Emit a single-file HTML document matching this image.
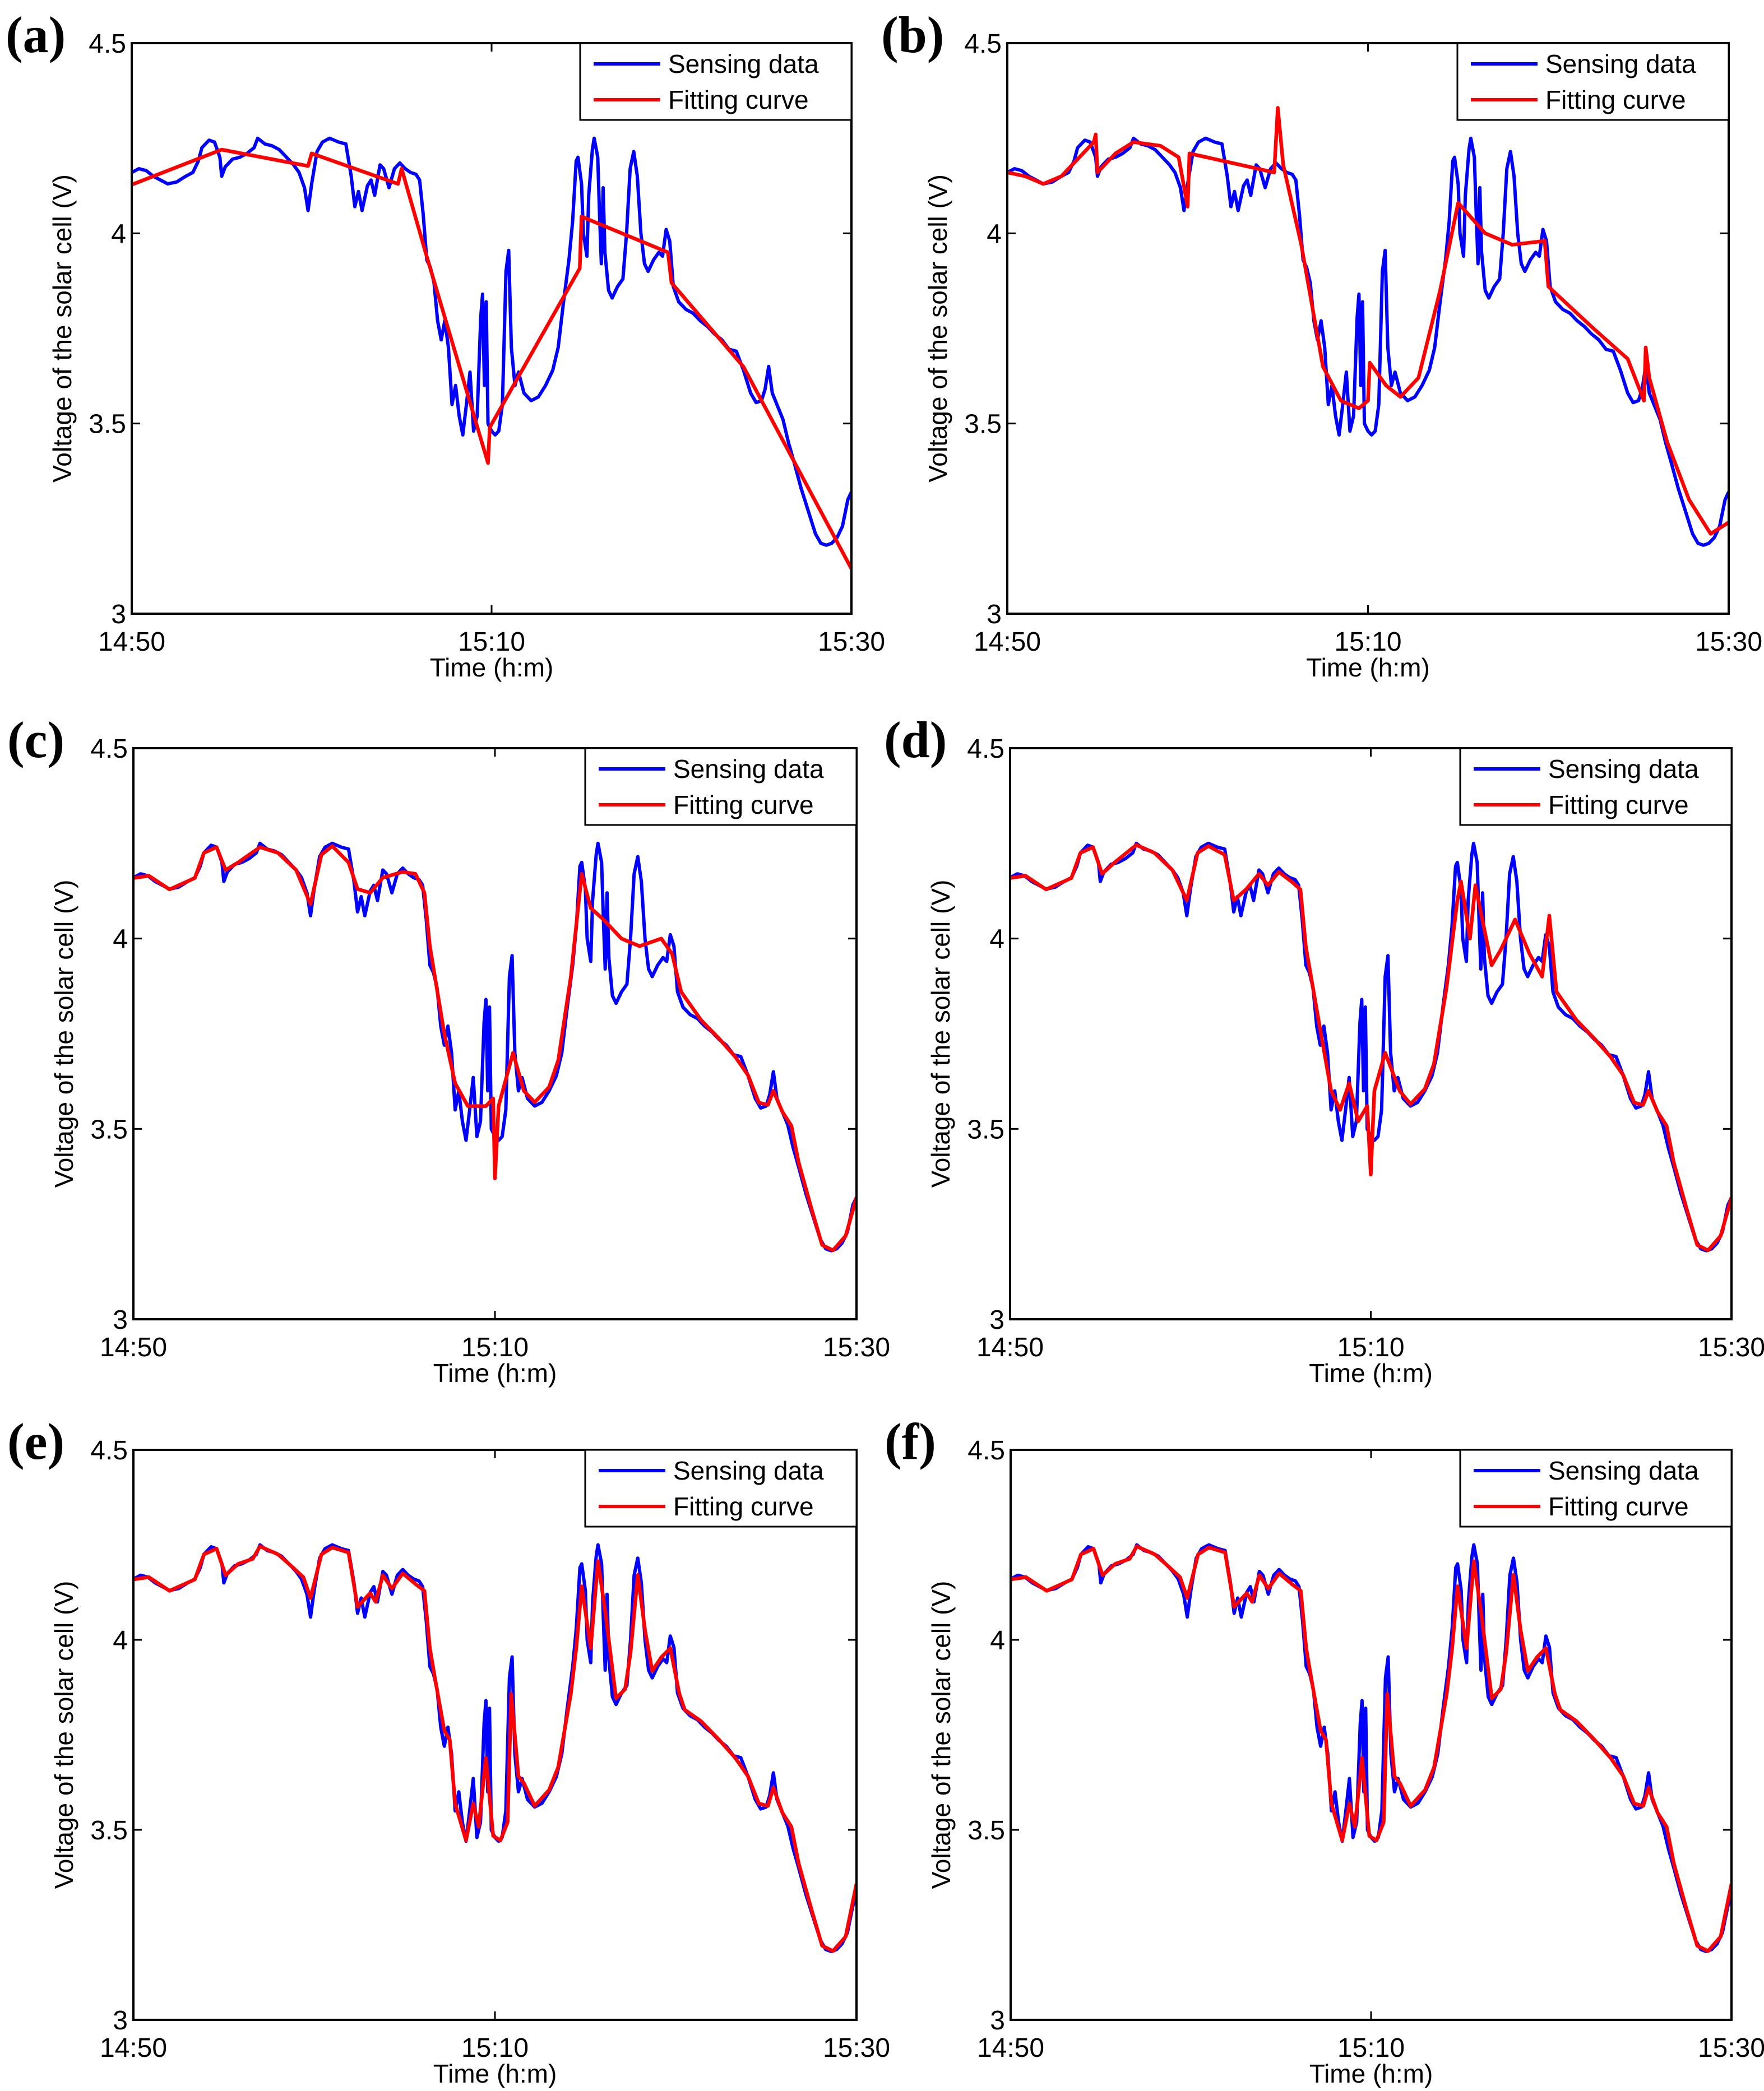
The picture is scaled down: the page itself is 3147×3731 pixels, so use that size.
<!DOCTYPE html>
<html><head><meta charset="utf-8"><style>
html,body{margin:0;padding:0;background:#fff}
svg{display:block}
text{font-family:"Liberation Sans",sans-serif;fill:#000}
.pl{font-family:"Liberation Serif",serif;font-weight:bold}
</style></head><body>
<svg id="fig" xmlns="http://www.w3.org/2000/svg" width="3147" height="3731" viewBox="0 0 3147 3731"></svg>
<script>
const xTickLabels = ["14:50","15:10","15:30"];
const xTickValues = [0,20,40];
const yTickLabels = ["3","3.5","4","4.5"];
const yTickValues = [3,3.5,4,4.5];
const panelLabels = ["(a)","(b)","(c)","(d)","(e)","(f)"];
const seriesNames = ["Sensing data","Fitting curve"];

const sensingData = [[0,4.16],[0.4,4.17],[0.8,4.165],[1.2,4.15],[1.6,4.14],[2.0,4.13],[2.5,4.135],[3.0,4.15],[3.4,4.16],[3.7,4.19],[3.9,4.225],[4.3,4.245],[4.6,4.24],[4.9,4.2],[5.0,4.15],[5.2,4.175],[5.6,4.195],[6.0,4.2],[6.4,4.21],[6.8,4.225],[7.0,4.25],[7.4,4.235],[7.8,4.23],[8.2,4.22],[8.6,4.2],[9.0,4.18],[9.3,4.16],[9.6,4.12],[9.8,4.06],[10.0,4.13],[10.3,4.215],[10.6,4.24],[11.0,4.25],[11.5,4.24],[11.9,4.235],[12.2,4.15],[12.4,4.07],[12.6,4.11],[12.8,4.06],[13.1,4.125],[13.3,4.14],[13.5,4.1],[13.8,4.18],[14.0,4.17],[14.3,4.12],[14.6,4.17],[14.9,4.185],[15.2,4.17],[15.5,4.16],[15.8,4.155],[16.0,4.14],[16.2,4.05],[16.4,3.93],[16.6,3.91],[16.8,3.87],[17.0,3.77],[17.2,3.72],[17.4,3.77],[17.6,3.7],[17.8,3.55],[18.0,3.6],[18.2,3.52],[18.4,3.47],[18.6,3.55],[18.8,3.635],[19.0,3.48],[19.2,3.52],[19.4,3.78],[19.5,3.84],[19.6,3.6],[19.7,3.82],[19.8,3.5],[20.0,3.48],[20.2,3.47],[20.4,3.48],[20.6,3.55],[20.8,3.9],[20.95,3.955],[21.1,3.7],[21.3,3.6],[21.5,3.635],[21.8,3.58],[22.2,3.56],[22.6,3.57],[23.0,3.6],[23.4,3.64],[23.7,3.7],[24.0,3.82],[24.3,3.93],[24.5,4.03],[24.7,4.19],[24.8,4.2],[25.0,4.13],[25.1,4.0],[25.3,3.94],[25.4,4.1],[25.6,4.22],[25.7,4.25],[25.9,4.2],[26.0,4.05],[26.1,3.92],[26.2,4.12],[26.3,3.95],[26.5,3.85],[26.7,3.83],[27.0,3.86],[27.3,3.88],[27.5,4.0],[27.7,4.17],[27.9,4.215],[28.1,4.15],[28.3,4.0],[28.5,3.92],[28.7,3.9],[29.0,3.93],[29.3,3.95],[29.5,3.94],[29.7,4.01],[29.9,3.98],[30.1,3.86],[30.4,3.82],[30.8,3.8],[31.2,3.79],[31.6,3.77],[32.0,3.755],[32.4,3.735],[32.8,3.72],[33.2,3.695],[33.6,3.69],[34.0,3.64],[34.4,3.58],[34.7,3.555],[35.0,3.56],[35.2,3.59],[35.4,3.65],[35.6,3.58],[35.9,3.545],[36.2,3.51],[36.5,3.45],[36.8,3.4],[37.2,3.33],[37.6,3.27],[38.0,3.21],[38.3,3.185],[38.6,3.18],[38.9,3.185],[39.2,3.2],[39.5,3.23],[39.8,3.3],[40,3.32]];

const fitA = [[0,4.128],[5.0,4.22],[9.8,4.177],[10.0,4.21],[14.8,4.13],[15.0,4.17],[16.3,3.955],[19.8,3.396],[19.9,3.49],[24.9,3.908],[25.0,4.044],[29.8,3.95],[30.0,3.87],[34.0,3.649],[40,3.118]];

const fitB = [[0,4.16],[1,4.15],[2,4.13],[3,4.15],[4,4.2],[4.8,4.24],[4.9,4.26],[5.0,4.16],[6,4.21],[7,4.24],[8.5,4.23],[9.5,4.2],[10.0,4.07],[10.1,4.21],[12,4.19],[14.8,4.16],[15.0,4.33],[15.3,4.18],[16.3,3.97],[17.5,3.65],[18.5,3.56],[19.5,3.54],[20.0,3.56],[20.1,3.66],[21,3.6],[21.8,3.57],[22.8,3.62],[24,3.85],[25,4.08],[26.5,4.0],[28,3.97],[29.8,3.98],[30,3.86],[32.5,3.75],[34.4,3.67],[35.3,3.56],[35.4,3.7],[35.6,3.62],[36.6,3.45],[37.8,3.3],[39,3.21],[40,3.24]];

const fitC = [[0,4.159],[0.85,4.165],[2.0,4.129],[3.4,4.159],[3.9,4.225],[4.6,4.24],[5.1,4.18],[5.8,4.2],[7.0,4.24],[8.0,4.225],[9.0,4.18],[9.8,4.09],[10.4,4.22],[11.0,4.243],[11.9,4.2],[12.4,4.13],[13.1,4.12],[13.8,4.16],[14.9,4.175],[15.6,4.17],[16.1,4.12],[16.4,3.98],[17.2,3.75],[17.8,3.62],[18.5,3.56],[19.5,3.56],[19.9,3.58],[20.0,3.37],[20.2,3.56],[21.0,3.7],[21.6,3.6],[22.2,3.57],[23.0,3.61],[23.5,3.68],[24.2,3.9],[24.8,4.17],[25.3,4.08],[26.0,4.05],[27.0,4.0],[28.0,3.98],[29.2,4.0],[29.8,3.96],[30.3,3.86],[31.4,3.786],[32.4,3.737],[33.3,3.689],[34.0,3.641],[34.6,3.569],[35.1,3.563],[35.4,3.6],[35.9,3.545],[36.4,3.508],[36.8,3.412],[37.5,3.292],[38.1,3.195],[38.7,3.181],[39.4,3.219],[40,3.32]];

const fitD = [[0,4.159],[0.85,4.165],[2.0,4.129],[3.4,4.159],[3.9,4.225],[4.6,4.24],[5.1,4.17],[5.8,4.2],[7.0,4.246],[8.0,4.225],[9.0,4.18],[9.8,4.1],[10.4,4.225],[11.0,4.243],[11.9,4.22],[12.4,4.1],[13.1,4.13],[13.8,4.17],[14.3,4.14],[14.9,4.175],[15.6,4.15],[16.1,4.129],[16.4,3.978],[17.2,3.76],[17.8,3.6],[18.3,3.55],[18.8,3.62],[19.3,3.52],[19.8,3.56],[20.0,3.38],[20.2,3.6],[20.8,3.7],[21.6,3.6],[22.2,3.565],[23.0,3.605],[23.5,3.67],[24.2,3.87],[24.8,4.1],[25.0,4.15],[25.5,4.0],[25.8,4.14],[26.7,3.93],[27.2,3.97],[28.0,4.05],[28.8,3.96],[29.5,3.9],[29.9,4.06],[30.3,3.86],[31.4,3.786],[32.4,3.737],[33.3,3.689],[34.0,3.641],[34.6,3.569],[35.1,3.563],[35.4,3.6],[35.9,3.545],[36.4,3.508],[36.8,3.412],[37.5,3.292],[38.1,3.195],[38.7,3.181],[39.4,3.219],[40,3.32]];

const fitE = [[0,4.159],[0.85,4.165],[2.0,4.129],[3.4,4.159],[3.9,4.225],[4.6,4.24],[5.1,4.17],[5.8,4.2],[6.6,4.213],[7.0,4.246],[8.0,4.225],[8.6,4.2],[9.4,4.165],[9.8,4.11],[10.4,4.225],[11.0,4.243],[11.9,4.23],[12.4,4.087],[13.1,4.123],[13.4,4.1],[13.8,4.17],[14.3,4.135],[14.9,4.175],[15.6,4.147],[16.1,4.129],[16.4,3.978],[16.7,3.894],[17.2,3.761],[17.5,3.737],[17.8,3.569],[18.4,3.472],[18.8,3.569],[19.1,3.508],[19.5,3.689],[19.9,3.484],[20.3,3.472],[20.7,3.52],[20.9,3.858],[21.3,3.641],[21.6,3.623],[22.2,3.563],[23.0,3.605],[23.5,3.665],[24.2,3.858],[24.5,3.978],[24.8,4.141],[25.3,3.978],[25.7,4.207],[26.1,4.075],[26.7,3.846],[27.2,3.87],[27.5,3.966],[27.9,4.171],[28.3,4.026],[28.7,3.918],[29.2,3.954],[29.7,3.978],[30.2,3.858],[30.5,3.816],[31.4,3.786],[32.4,3.737],[33.3,3.689],[34.0,3.641],[34.6,3.569],[35.1,3.563],[35.4,3.611],[35.9,3.545],[36.4,3.508],[36.8,3.412],[37.5,3.292],[38.1,3.195],[38.7,3.181],[39.4,3.219],[40,3.358]];

const fitF = [[0,4.159],[0.85,4.165],[2.0,4.129],[3.4,4.159],[3.9,4.225],[4.6,4.24],[5.1,4.17],[5.8,4.2],[6.6,4.213],[7.0,4.246],[8.0,4.225],[8.6,4.2],[9.4,4.165],[9.8,4.11],[10.4,4.225],[11.0,4.243],[11.9,4.23],[12.4,4.087],[13.1,4.123],[13.4,4.1],[13.8,4.17],[14.3,4.135],[14.9,4.175],[15.6,4.147],[16.1,4.129],[16.4,3.978],[16.7,3.894],[17.2,3.761],[17.5,3.737],[17.8,3.569],[18.4,3.472],[18.8,3.569],[19.1,3.508],[19.5,3.689],[19.9,3.484],[20.3,3.472],[20.7,3.52],[20.9,3.858],[21.3,3.641],[21.6,3.623],[22.2,3.563],[23.0,3.605],[23.5,3.665],[24.2,3.858],[24.5,3.978],[24.8,4.141],[25.3,3.978],[25.7,4.207],[26.1,4.075],[26.7,3.846],[27.2,3.87],[27.5,3.966],[27.9,4.171],[28.3,4.026],[28.7,3.918],[29.2,3.954],[29.7,3.978],[30.2,3.858],[30.5,3.816],[31.4,3.786],[32.4,3.737],[33.3,3.689],[34.0,3.641],[34.6,3.569],[35.1,3.563],[35.4,3.611],[35.9,3.545],[36.4,3.508],[36.8,3.412],[37.5,3.292],[38.1,3.195],[38.7,3.181],[39.4,3.219],[40,3.358]];

const fits = [fitA, fitB, fitC, fitD, fitE, fitF];

const NS = "http://www.w3.org/2000/svg";
const svg = document.getElementById("fig");
const boxes = [
  {l:235,r:1519,t:77,b:1095},{l:1797,r:3084,t:77,b:1095},
  {l:238,r:1528,t:1335,b:2354},{l:1802,r:3089,t:1335,b:2354},
  {l:238,r:1528,t:2587,b:3604},{l:1803,r:3089,t:2587,b:3604}
];
function mk(tag, attrs, parent){
  const e = document.createElementNS(NS, tag);
  for (const k in attrs) e.setAttribute(k, attrs[k]);
  parent.appendChild(e);
  return e;
}
boxes.forEach((B, i) => {
  const g = mk("g", {}, svg);
  
  
  const xs = t => B.l + (t - 0) / 40 * (B.r - B.l);
  const ys = v => B.b - (v - 3) / 1.5 * (B.b - B.t);
  const toPts = arr => arr.map(p => xs(p[0]).toFixed(1) + "," + ys(p[1]).toFixed(1)).join(" ");

  const clipId = "clip" + i;
  const cp = mk("clipPath", {id: clipId}, g);
  mk("rect", {x:B.l, y:B.t, width:B.r-B.l, height:B.b-B.t}, cp);

  const blue = mk("polyline", {points: toPts(sensingData), fill:"none", stroke:"#0000ff", "stroke-width":6, "stroke-linejoin":"round", "clip-path":"url(#"+clipId+")"}, g);
  
  
  const red = mk("polyline", {points: toPts(fits[i]), fill:"none", stroke:"#ff0000", "stroke-width":6.5, "stroke-linejoin":"round", "clip-path":"url(#"+clipId+")"}, g);
  
  

  const frame = mk("rect", {x:B.l, y:B.t, width:B.r-B.l, height:B.b-B.t, fill:"none", stroke:"#000", "stroke-width":4}, g);
  
  

  xTickValues.forEach((tv, k) => {
    const x = xs(tv);
    mk("line", {x1:x, y1:B.b, x2:x, y2:B.b-15, stroke:"#000", "stroke-width":3}, g);
    mk("line", {x1:x, y1:B.t, x2:x, y2:B.t+15, stroke:"#000", "stroke-width":3}, g);
    const tx = mk("text", {x:x, y:B.b+66, "font-size":48, "text-anchor":"middle"}, g);
    tx.textContent = xTickLabels[k];
    
    
  });
  yTickValues.forEach((tv, k) => {
    const y = ys(tv);
    mk("line", {x1:B.l, y1:y, x2:B.l+15, y2:y, stroke:"#000", "stroke-width":3}, g);
    mk("line", {x1:B.r, y1:y, x2:B.r-15, y2:y, stroke:"#000", "stroke-width":3}, g);
    const ty = mk("text", {x:B.l-10, y:y+17, "font-size":48, "text-anchor":"end"}, g);
    ty.textContent = yTickLabels[k];
    
    
  });
  const xl = mk("text", {x:(B.l+B.r)/2, y:B.b+112, "font-size":46, "text-anchor":"middle"}, g);
  xl.textContent = "Time (h:m)";
  
  
  const yc = (B.t+B.b)/2, yx = B.l-108;
  const yl = mk("text", {x:yx, y:yc, "font-size":46, "text-anchor":"middle", transform:"rotate(-90 "+yx+" "+yc+")"}, g);
  yl.textContent = "Voltage of the solar cell (V)";
  
  

  const pl = mk("text", {x:B.l-225, y:B.t+16, "font-size":92, "class":"pl"}, g);
  pl.textContent = panelLabels[i];
  
  

  const lg = mk("g", {}, g);
  
  
  const LW = 484, LH = 137, lx = B.r - LW, ly = B.t;
  mk("rect", {x:lx, y:ly, width:LW, height:LH, fill:"#fff", stroke:"#000", "stroke-width":3}, lg);
  [["#0000ff",37],["#ff0000",101]].forEach((c, k) => {
    const en = mk("g", {}, lg);
    
    
    mk("line", {x1:lx+24, y1:ly+c[1], x2:lx+143, y2:ly+c[1], stroke:c[0], "stroke-width":6}, en);
    const t = mk("text", {x:lx+157, y:ly+c[1]+16, "font-size":46}, en);
    t.textContent = seriesNames[k];
  });
});
</script>
</body></html>
